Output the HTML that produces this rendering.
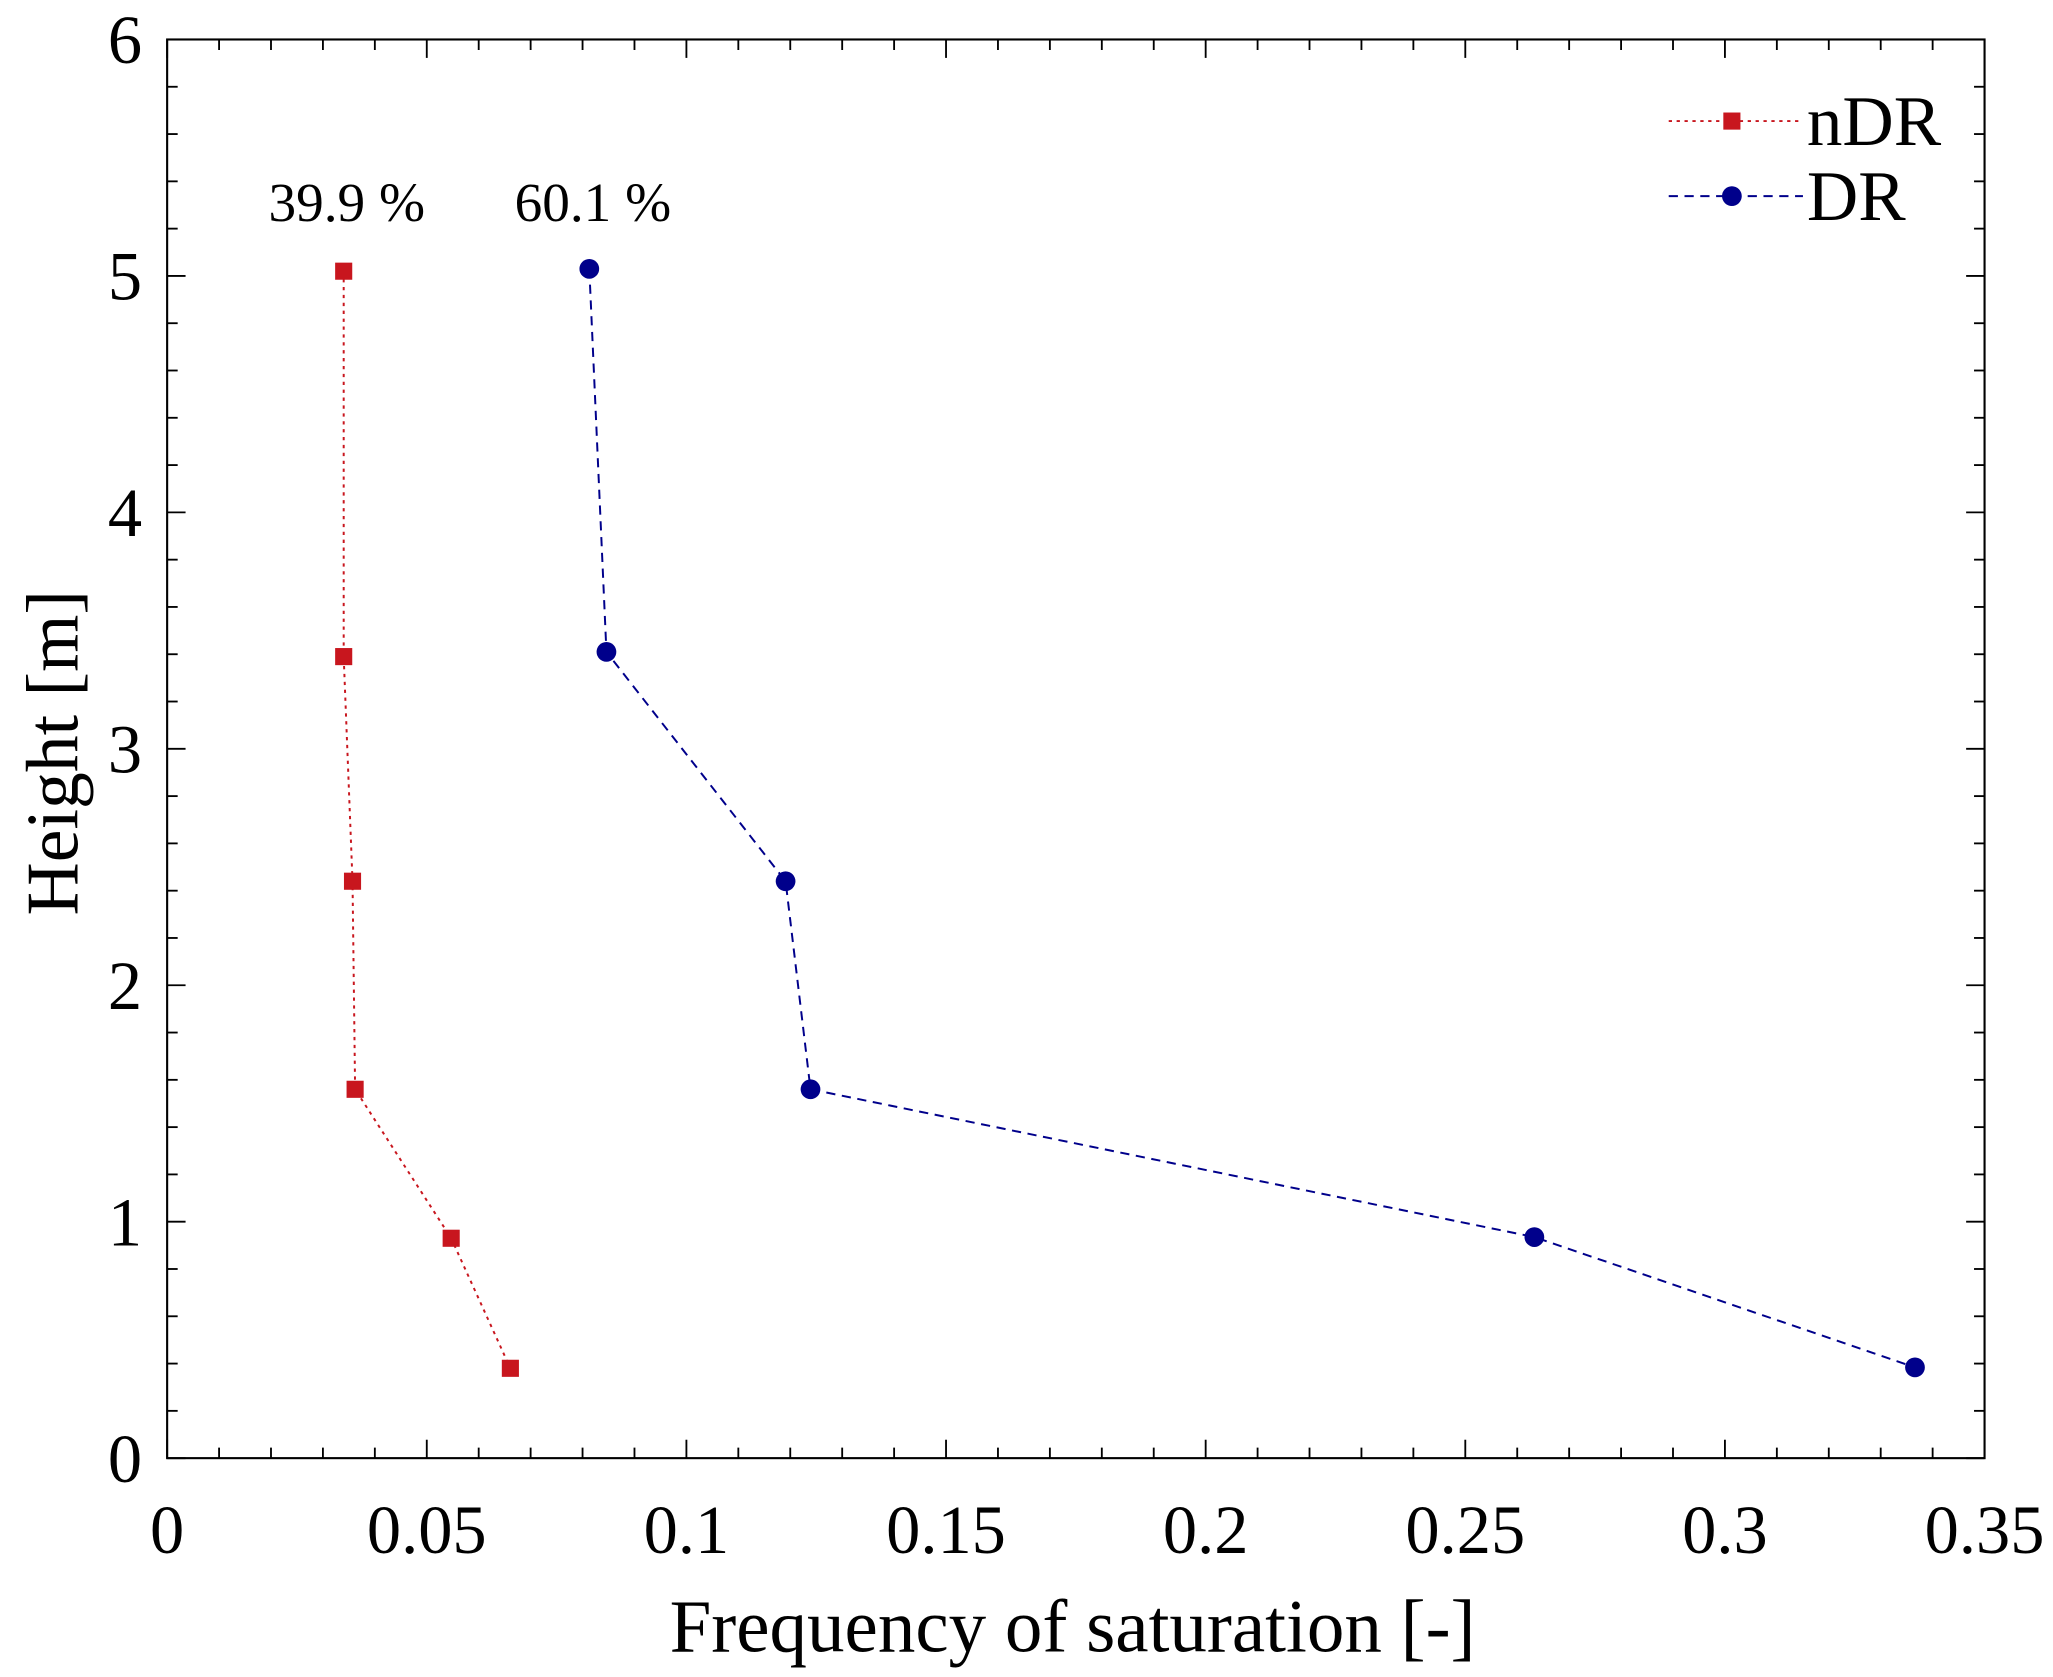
<!DOCTYPE html>
<html><head><meta charset="utf-8"><style>html,body{margin:0;padding:0;background:#fff}svg{display:block}</style></head>
<body>
<svg id="chart" width="2053" height="1677" viewBox="0 0 1560 1274.3" xmlns="http://www.w3.org/2000/svg" font-family="'Liberation Serif', serif"></svg>
<script>
const xTicks = [0, 0.05, 0.1, 0.15, 0.2, 0.25, 0.3, 0.35];
const xTickLabels = ["0", "0.05", "0.1", "0.15", "0.2", "0.25", "0.3", "0.35"];
const yTicks = [0, 1, 2, 3, 4, 5, 6];
const yTickLabels = ["0", "1", "2", "3", "4", "5", "6"];
const ndrX = [0.034, 0.034, 0.0357, 0.0362, 0.0547, 0.0661];
const ndrY = [5.02, 3.39, 2.44, 1.56, 0.93, 0.38];
const drX = [0.0813, 0.0846, 0.1191, 0.1239, 0.2633, 0.3366];
const drY = [5.03, 3.41, 2.44, 1.56, 0.935, 0.384];

const L = 127, R = 1508, T = 30, B = 1108;
const sx = v => L + (v - 0) / 0.35 * (R - L);
const sy = v => B - v / 6 * (B - T);
const svg = document.getElementById('chart');
const NS = 'http://www.w3.org/2000/svg';
function mk(tag, attrs, parent) {
  const e = document.createElementNS(NS, tag);
  for (const k in attrs) e.setAttribute(k, attrs[k]);
  (parent || svg).appendChild(e);
  return e;
}
const frame = mk('rect', {x: L, y: T, width: R - L, height: B - T, fill: 'none', stroke: '#000', 'stroke-width': 1.6});


const tg = mk('g', {stroke: '#000', 'stroke-width': 1.4});


for (let i = 0; i <= 35; i++) {
  const x = sx(i * 0.01), len = (i % 5 === 0) ? 14 : 8;
  mk('line', {x1: x, y1: B, x2: x, y2: B - len}, tg);
  mk('line', {x1: x, y1: T, x2: x, y2: T + len}, tg);
}
for (let i = 0; i <= 30; i++) {
  const y = sy(i * 0.2), len = (i % 5 === 0) ? 14 : 8;
  mk('line', {x1: L, y1: y, x2: L + len, y2: y}, tg);
  mk('line', {x1: R, y1: y, x2: R - len, y2: y}, tg);
}
xTicks.forEach((v, i) => {
  const t = mk('text', {x: sx(v), y: 1180, 'text-anchor': 'middle', 'font-size': 52});
  t.textContent = xTickLabels[i];
  
  
});
yTicks.forEach((v, i) => {
  const t = mk('text', {x: 108, y: sy(v) + 18, 'text-anchor': 'end', 'font-size': 52});
  t.textContent = yTickLabels[i];
  
  
});
const xt = mk('text', {x: 815, y: 1255, 'text-anchor': 'middle', 'font-size': 57});
xt.textContent = 'Frequency of saturation [-]';


const yt = mk('text', {x: 0, y: 0, 'text-anchor': 'middle', 'font-size': 56, transform: 'translate(59,572) rotate(-90)'});
yt.textContent = 'Height [m]';


const red = '#c8161e', blue = '#00008b';
const ndrLine = mk('polyline', {points: ndrX.map((v, i) => sx(v) + ',' + sy(ndrY[i])).join(' '), fill: 'none', stroke: red, 'stroke-width': 1.5, 'stroke-dasharray': '2.5,3.5'});


const drLine = mk('polyline', {points: drX.map((v, i) => sx(v) + ',' + sy(drY[i])).join(' '), fill: 'none', stroke: blue, 'stroke-width': 1.5, 'stroke-dasharray': '7,5'});


ndrX.forEach((v, i) => {
  const m = mk('rect', {x: sx(v) - 6.5, y: sy(ndrY[i]) - 6.5, width: 13, height: 13, fill: red});
  
  
});
drX.forEach((v, i) => {
  const m = mk('circle', {cx: sx(v), cy: sy(drY[i]), r: 7.5, fill: blue});
  
  
});
const a1 = mk('text', {x: 204, y: 168, 'font-size': 42});
a1.textContent = '39.9 %';


const a2 = mk('text', {x: 391, y: 168, 'font-size': 42});
a2.textContent = '60.1 %';


const lg1 = mk('g', {});


mk('line', {x1: 1268, y1: 92, x2: 1370, y2: 92, stroke: red, 'stroke-width': 1.5, 'stroke-dasharray': '2.5,3.5'}, lg1);
mk('rect', {x: 1309.5, y: 85.5, width: 13, height: 13, fill: red}, lg1);
const lt1 = mk('text', {x: 1373, y: 110, 'font-size': 54}, lg1);
lt1.textContent = 'nDR';
const lg2 = mk('g', {});


mk('line', {x1: 1268, y1: 149, x2: 1370, y2: 149, stroke: blue, 'stroke-width': 1.5, 'stroke-dasharray': '7,5'}, lg2);
mk('circle', {cx: 1316, cy: 149, r: 7.5, fill: blue}, lg2);
const lt2 = mk('text', {x: 1373, y: 167, 'font-size': 54}, lg2);
lt2.textContent = 'DR';
</script>
</body></html>
